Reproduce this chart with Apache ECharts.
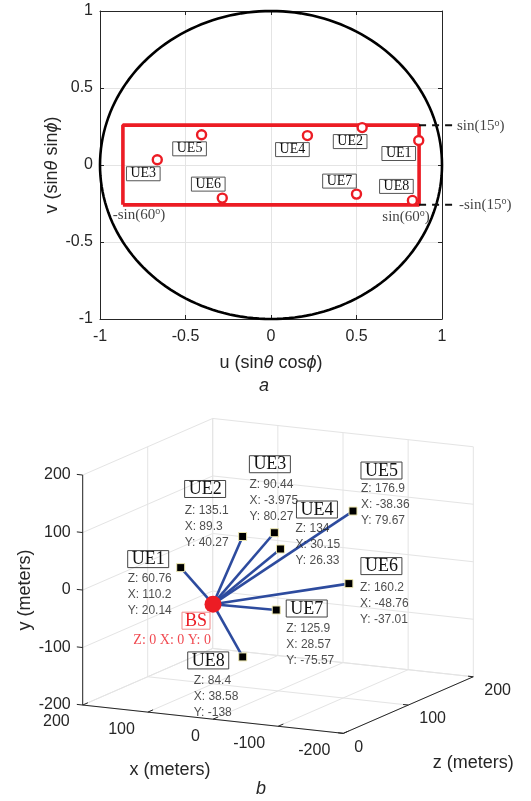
<!DOCTYPE html>
<html>
<head>
<meta charset="utf-8">
<script src="https://cdn.jsdelivr.net/npm/echarts@6/dist/echarts.min.js"></script>
<style>
  html, body { margin: 0; padding: 0; background: #fff; }
  #chart { width: 531px; height: 801px; }
</style>
</head>
<body>
<div id="chart"></div>
<script>
// ---------- data ----------
const ueNames = ['UE1', 'UE2', 'UE3', 'UE4', 'UE5', 'UE6', 'UE7', 'UE8'];

// angular domain: u = sinθ cosϕ, v = sinθ sinϕ
const ueU = [0.864, 0.533, -0.665, 0.213, -0.406, -0.285, 0.500, 0.827];
const ueV = [0.159, 0.243, 0.034, 0.191, 0.196, -0.215, -0.189, -0.230];
const uvTicks = [-1, -0.5, 0, 0.5, 1];
const sectorAzDeg = 60;   // ±sin(60°) in u
const sectorElDeg = 15;   // ±sin(15°) in v

// physical positions in meters
const ueX = [110.2, 89.3, -3.975, 30.15, -38.36, -48.76, 28.57, 38.58];
const ueY = [20.14, 40.27, 80.27, 26.33, 79.67, -37.01, -75.57, -138];
const ueZ = [60.76, 135.1, 90.44, 134, 176.9, 160.2, 125.9, 84.4];
const bsXYZ = [0, 0, 0];
const xyTicks = [-200, -100, 0, 100, 200];
const zTicks = [0, 100, 200];

// ---------- layout (pixels) ----------
const uvLabelShift = [[-20, 13], [-12, 14], [-14, 14], [-15, 14], [-12, 14], [-14, -14], [-17, -13], [-16, -14]];
const nameShift3d = [[-53, -17], [-58, -56], [-25, -77], [16, -48], [8, -49], [12, -26], [10, -10], [-55, -5]];
const infoShift3d = [[-53, 3], [-58, -34], [-25, -56], [15, -28], [8, -30], [11, -4], [10, 11], [-49, 16]];

const RED = '#ec1c24';
const AXIS = '#262626';
const GRID = '#e4e4e4';
const SANS = '"Liberation Sans", Arial, sans-serif';
const SERIF = '"Liberation Serif", "Times New Roman", serif';

const sAz = Math.sin(sectorAzDeg * Math.PI / 180);
const sEl = Math.sin(sectorElDeg * Math.PI / 180);
const dashEnd = 1.076;

// ---------- oblique 3-D view: screen pixels per meter (y up) ----------
const EX = [-0.6515, 0.0708];
const EY = [0, 0.575];
const EZ = [0.65, 0.283];
function project(X, Y, Z) {
  return [EX[0] * X + EY[0] * Y + EZ[0] * Z, EX[1] * X + EY[1] * Y + EZ[1] * Z];
}
const box3d = { left: 0, top: 420, width: 531, height: 381 };
const origin3d = [213, 604.2];   // where (0,0,0) sits on the page

const supO = (txt) => txt.replace('o', '}{s|o}{t|');

// ---------- renderers ----------
function renderUnitCircle(params, api) {
  const pts = [];
  for (let k = 0; k <= 360; k += 2) {
    const a = k * Math.PI / 180;
    pts.push(api.coord([Math.cos(a), Math.sin(a)]));
  }
  return { type: 'polyline', shape: { points: pts }, style: { stroke: '#000', lineWidth: 2.6, fill: null } };
}

// dashed leaders from the sector edge to the ±sin(15°) notes
function renderLeaders(params, api) {
  const kids = [sEl, -sEl].map(v => {
    const a = api.coord([sAz, v]);
    const b = api.coord([dashEnd, v]);
    return {
      type: 'line', shape: { x1: a[0], y1: a[1], x2: b[0], y2: b[1] },
      style: { stroke: '#111', lineWidth: 2, lineDash: [7, 6] }
    };
  });
  return { type: 'group', children: kids };
}

function renderBox(params, api) {
  const pt = (X, Y, Z) => api.coord(project(X, Y, Z));
  const lo = -200, hi = 200, z0 = 0, z1 = 200;
  const kids = [];
  const seg = (a, b, stroke, w) => kids.push({
    type: 'line', shape: { x1: a[0], y1: a[1], x2: b[0], y2: b[1] },
    style: { stroke: stroke, lineWidth: w }
  });
  const txt = (p, s, align, size, extra) => kids.push(Object.assign({
    type: 'text', x: p[0], y: p[1],
    style: { text: s, fill: AXIS, fontSize: size, fontFamily: SANS, align: align, verticalAlign: 'middle' }
  }, extra || {}));

  // back wall (Z = 200)
  xyTicks.forEach(x => seg(pt(x, lo, z1), pt(x, hi, z1), GRID, 1));
  xyTicks.forEach(y => seg(pt(lo, y, z1), pt(hi, y, z1), GRID, 1));
  // side wall (X = 200)
  zTicks.forEach(z => seg(pt(hi, lo, z), pt(hi, hi, z), GRID, 1));
  xyTicks.forEach(y => seg(pt(hi, y, z0), pt(hi, y, z1), GRID, 1));
  // floor (Y = -200)
  xyTicks.forEach(x => seg(pt(x, lo, z0), pt(x, lo, z1), GRID, 1));
  zTicks.forEach(z => seg(pt(lo, lo, z), pt(hi, lo, z), GRID, 1));

  // axis lines
  seg(pt(hi, lo, z0), pt(hi, hi, z0), AXIS, 1);
  seg(pt(hi, lo, z0), pt(lo, lo, z0), AXIS, 1);
  seg(pt(lo, lo, z0), pt(lo, lo, z1), AXIS, 1);

  // ticks and tick labels
  xyTicks.forEach(y => {
    const a = pt(hi, y, z0);
    seg(a, pt(hi + 9, y, z0), AXIS, 1);
    txt([a[0] - 12, a[1]], String(y), 'right', 16);
  });
  xyTicks.forEach(x => {
    const a = pt(x, lo, z0);
    seg(a, pt(x, lo, z0 + 8), AXIS, 1);
    txt([a[0] - 13, a[1] + 17], String(x), 'right', 16);
  });
  zTicks.forEach(z => {
    const a = pt(lo, lo, z);
    seg(a, pt(lo + 8, lo, z), AXIS, 1);
    txt([a[0] + 11, a[1] + 14], String(z), 'left', 16);
  });

  // axis titles
  const yMid = pt(hi, 0, z0);
  txt([yMid[0] - 58, yMid[1]], 'y (meters)', 'center', 18, { rotation: Math.PI / 2 });
  const xMid = pt(0, lo, z0);
  txt([xMid[0] - 43, xMid[1] + 51], 'x (meters)', 'center', 18);
  const zMid = pt(lo, lo, 100);
  txt([zMid[0] + 65, zMid[1] + 58], 'z (meters)', 'center', 18);

  return { type: 'group', children: kids };
}

// ---------- series data ----------
const uvPoints = ueNames.map((n, i) => ({
  name: n, value: [ueU[i], ueV[i]],
  label: { offset: uvLabelShift[i] }
}));

const sectorRect = [[-sAz, -sEl], [sAz, -sEl], [sAz, sEl], [-sAz, sEl], [-sAz, -sEl]];

const uePts3d = ueNames.map((n, i) => project(ueX[i], ueY[i], ueZ[i]));
const bsPt3d = project(bsXYZ[0], bsXYZ[1], bsXYZ[2]);

const chart = echarts.init(document.getElementById('chart'), null, { renderer: 'canvas' });

const axisLineStyle = { color: AXIS, width: 1 };
const nameStyle = {
  fontSize: 18, fontFamily: SANS, color: AXIS,
  rich: { i: { fontSize: 18, fontStyle: 'italic', fontFamily: SANS, color: AXIS } }
};

chart.setOption({
  animation: false,
  backgroundColor: '#fff',
  grid: [
    { left: 100, top: 11, width: 342, height: 308 },
    box3d
  ],
  xAxis: [
    {
      gridIndex: 0, type: 'value', min: uvTicks[0], max: uvTicks[uvTicks.length - 1], interval: 0.5,
      position: 'bottom',
      axisLine: { onZero: false, lineStyle: axisLineStyle },
      axisTick: { inside: true, length: 4, lineStyle: axisLineStyle },
      axisLabel: { fontSize: 16, fontFamily: SANS, color: AXIS, margin: 10 },
      splitLine: { show: true, lineStyle: { color: GRID, width: 1 } },
      name: 'u (sin{i|θ} cos{i|ϕ})', nameLocation: 'middle', nameGap: 35,
      nameTextStyle: nameStyle
    },
    {
      gridIndex: 0, type: 'value', min: -1, max: 1, interval: 0.5, position: 'top',
      axisLine: { onZero: false, lineStyle: axisLineStyle },
      axisTick: { inside: true, length: 4, lineStyle: axisLineStyle },
      axisLabel: { show: false }, splitLine: { show: false }
    },
    { gridIndex: 1, type: 'value', min: -(origin3d[0] - box3d.left), max: box3d.left + box3d.width - origin3d[0], show: false }
  ],
  yAxis: [
    {
      gridIndex: 0, type: 'value', min: uvTicks[0], max: uvTicks[uvTicks.length - 1], interval: 0.5,
      position: 'left',
      axisLine: { onZero: false, lineStyle: axisLineStyle },
      axisTick: { inside: true, length: 4, lineStyle: axisLineStyle },
      axisLabel: { fontSize: 16, fontFamily: SANS, color: AXIS, margin: 7 },
      splitLine: { show: true, lineStyle: { color: GRID, width: 1 } },
      name: 'v (sin{i|θ} sin{i|ϕ})', nameLocation: 'middle', nameGap: 39, nameMoveOverlap: false,
      nameTextStyle: nameStyle
    },
    {
      gridIndex: 0, type: 'value', min: -1, max: 1, interval: 0.5, position: 'right',
      axisLine: { onZero: false, lineStyle: axisLineStyle },
      axisTick: { inside: true, length: 4, lineStyle: axisLineStyle },
      axisLabel: { show: false }, splitLine: { show: false }
    },
    { gridIndex: 1, type: 'value', min: -(box3d.top + box3d.height - origin3d[1]), max: origin3d[1] - box3d.top, show: false }
  ],
  graphic: [
    { type: 'text', left: 259, top: 377, style: { text: 'a', fontSize: 18, fontStyle: 'italic', fontFamily: SANS, fill: AXIS } },
    { type: 'text', left: 256, top: 780, style: { text: 'b', fontSize: 18, fontStyle: 'italic', fontFamily: SANS, fill: AXIS } }
  ],
  series: [
    // ---- angular domain ----
    {
      type: 'custom', xAxisIndex: 0, yAxisIndex: 0, data: [[0, 0]], renderItem: renderUnitCircle, silent: true, z: 2
    },
    {
      type: 'line', xAxisIndex: 0, yAxisIndex: 0, data: sectorRect, symbol: 'none', silent: true,
      lineStyle: { color: RED, width: 3.6 }, z: 3
    },
    {
      type: 'custom', xAxisIndex: 0, yAxisIndex: 0, data: [[0, 0]], renderItem: renderLeaders, silent: true, clip: false, z: 4
    },
    {
      type: 'scatter', xAxisIndex: 0, yAxisIndex: 0, symbol: 'circle', symbolSize: 9, data: uvPoints, z: 5,
      itemStyle: { color: '#fff', borderColor: RED, borderWidth: 2.4, opacity: 1 },
      label: {
        show: true, formatter: '{b}', position: ['50%', '50%'], align: 'center', verticalAlign: 'middle',
        fontFamily: SERIF, fontSize: 14, color: '#111', lineHeight: 13,
        borderColor: '#555', borderWidth: 1, padding: [1, 4, 0, 4]
      }
    },
    {
      type: 'scatter', xAxisIndex: 0, yAxisIndex: 0, symbolSize: 0.1, silent: true, clip: false, z: 6,
      itemStyle: { color: 'transparent' },
      label: {
        show: true, position: ['50%', '50%'], verticalAlign: 'middle',
        rich: {
          t: { fontFamily: SERIF, fontSize: 15, color: '#111', lineHeight: 16 },
          s: { fontFamily: SERIF, fontSize: 10, color: '#111', verticalAlign: 'top', lineHeight: 16 }
        }
      },
      data: [
        { value: [-sAz, -sEl], label: { formatter: '{t|' + supO('-sin(6' + '0o)') + '}', align: 'center', offset: [16, 10] } },
        { value: [sAz, -sEl], label: { formatter: '{t|' + supO('sin(6' + '0o)') + '}', align: 'center', offset: [-13, 12] } },
        { value: [dashEnd, sEl], label: { formatter: '{t|' + supO('sin(15o)') + '}', align: 'left', offset: [2, 1] } },
        { value: [dashEnd, -sEl], label: { formatter: '{t|' + supO('-sin(15o)') + '}', align: 'left', offset: [4, 0] } }
      ]
    },

    // ---- 3-D layout ----
    {
      type: 'custom', xAxisIndex: 2, yAxisIndex: 2, data: [[0, 0]], renderItem: renderBox, silent: true, z: 1
    },
    {
      type: 'lines', coordinateSystem: 'cartesian2d', xAxisIndex: 2, yAxisIndex: 2, silent: true, z: 2,
      lineStyle: { color: '#2d4b9e', width: 2.6, opacity: 1 },
      data: uePts3d.map(p => ({ coords: [bsPt3d, p] }))
    },
    {
      type: 'scatter', xAxisIndex: 2, yAxisIndex: 2, symbol: 'rect', symbolSize: 8, z: 3,
      itemStyle: { color: '#000', borderColor: '#eee8b0', borderWidth: 1, opacity: 1 },
      data: ueNames.map((n, i) => ({ name: n, value: uePts3d[i], label: { offset: nameShift3d[i] } })),
      label: {
        show: true, formatter: '{b}', position: ['50%', '50%'], align: 'left', verticalAlign: 'top',
        fontFamily: SERIF, fontSize: 18, color: '#111', lineHeight: 16,
        borderColor: '#444', borderWidth: 1, padding: [1, 4, 0, 4]
      }
    },
    {
      type: 'scatter', xAxisIndex: 2, yAxisIndex: 2, symbolSize: 0.1, silent: true, z: 4,
      itemStyle: { color: 'transparent' },
      data: ueNames.map((n, i) => ({
        name: n, value: uePts3d[i],
        label: { offset: infoShift3d[i], formatter: 'Z: ' + ueZ[i] + '\nX: ' + ueX[i] + '\nY: ' + ueY[i] }
      })),
      label: {
        show: true, position: ['50%', '50%'], align: 'left', verticalAlign: 'top',
        fontFamily: SANS, fontSize: 12, color: '#222', lineHeight: 16
      }
    },
    {
      type: 'scatter', xAxisIndex: 2, yAxisIndex: 2, symbol: 'circle', symbolSize: 17, z: 5,
      itemStyle: { color: RED, opacity: 1 },
      data: [{ name: 'BS', value: bsPt3d }],
      label: {
        show: true, formatter: '{b}', position: ['50%', '50%'], align: 'left', verticalAlign: 'top', offset: [-31, 8],
        fontFamily: SERIF, fontSize: 18, color: RED, lineHeight: 16,
        borderColor: '#f08c8c', borderWidth: 1, padding: [1, 3, 0, 3]
      }
    },
    {
      type: 'scatter', xAxisIndex: 2, yAxisIndex: 2, symbolSize: 0.1, silent: true, z: 5,
      itemStyle: { color: 'transparent' },
      data: [{ value: bsPt3d }],
      label: {
        show: true, position: ['50%', '50%'], align: 'right', verticalAlign: 'top', offset: [-2, 28],
        formatter: 'Z: ' + bsXYZ[2] + ' X: ' + bsXYZ[0] + ' Y: ' + bsXYZ[1],
        fontFamily: SERIF, fontSize: 14, color: RED, lineHeight: 16
      }
    }
  ]
});
</script>
</body>
</html>
